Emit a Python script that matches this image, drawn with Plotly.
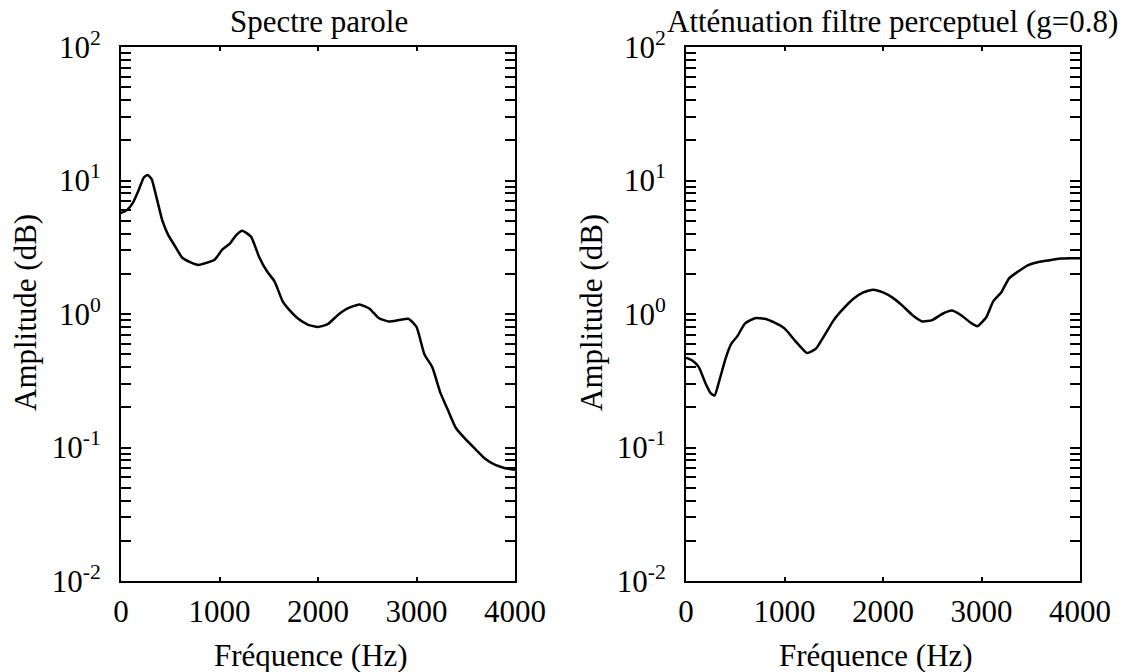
import plotly.graph_objects as go

# ---- data ----
freq_speech = [0, 60, 120, 180, 230, 270, 310, 360, 420, 480, 540, 620, 700, 790, 870, 950,
               1030, 1110, 1170, 1230, 1320, 1400, 1480, 1560, 1640, 1720, 1800, 1900, 2000,
               2100, 2200, 2300, 2420, 2520, 2620, 2720, 2820, 2920, 3000, 3080, 3160, 3240,
               3320, 3400, 3500, 3600, 3700, 3800, 3900, 4000]
amp_speech = [5.7, 6.0, 6.8, 8.5, 10.5, 11.0, 10.3, 7.5, 5.0, 3.9, 3.3, 2.65, 2.45, 2.33, 2.42,
              2.55, 3.05, 3.4, 3.9, 4.2, 3.8, 2.7, 2.1, 1.75, 1.25, 1.05, 0.92, 0.83, 0.80,
              0.84, 0.98, 1.1, 1.18, 1.1, 0.93, 0.88, 0.9, 0.92, 0.8, 0.5, 0.4, 0.26, 0.19,
              0.14, 0.115, 0.097, 0.082, 0.074, 0.07, 0.068]

freq_filter = [0, 60, 130, 200, 250, 290, 340, 400, 460, 520, 600, 700, 800, 900, 1000, 1100,
               1180, 1230, 1320, 1400, 1500, 1600, 1700, 1800, 1900, 2000, 2100, 2200, 2300,
               2400, 2500, 2600, 2700, 2800, 2900, 2960, 3050, 3120, 3200, 3280, 3380, 3480,
               3580, 3680, 3800, 3900, 4000]
amp_filter = [0.47, 0.45, 0.40, 0.30, 0.255, 0.245, 0.32, 0.46, 0.60, 0.68, 0.85, 0.93, 0.92,
              0.86, 0.78, 0.64, 0.55, 0.51, 0.55, 0.68, 0.9, 1.1, 1.3, 1.45, 1.52, 1.45, 1.32,
              1.15, 0.98, 0.88, 0.90, 1.0, 1.06, 0.97, 0.85, 0.81, 0.95, 1.25, 1.45, 1.85, 2.1,
              2.33, 2.45, 2.52, 2.6, 2.62, 2.62]

x_ticks = [0, 1000, 2000, 3000, 4000]
y_ticks = [0.01, 0.1, 1, 10, 100]
y_ticktext = ["10<sup>-2</sup>", "10<sup>-1</sup>", "10<sup>0</sup>", "10<sup>1</sup>", "10<sup>2</sup>"]

titles = ["Spectre parole", "Atténuation filtre perceptuel (g=0.8)"]
x_title = "Fréquence (Hz)"
y_title = "Amplitude (dB)"

FONT = "Liberation Serif, Times New Roman, serif"
FS = 31
W, H = 1131, 672

minor_vals = [m * 10 ** e for e in range(-2, 2) for m in range(2, 10)]

fig = go.Figure()
fig.add_trace(go.Scatter(x=freq_speech, y=amp_speech, mode="lines",
                         line=dict(color="black", width=2.5, shape="spline", smoothing=0.5),
                         xaxis="x", yaxis="y", showlegend=False))
fig.add_trace(go.Scatter(x=freq_filter, y=amp_filter, mode="lines",
                         line=dict(color="black", width=2.5, shape="spline", smoothing=0.5),
                         xaxis="x2", yaxis="y2", showlegend=False))

def xax(domain, anchor):
    return dict(domain=domain, anchor=anchor, range=[0, 4000], tickmode="array", tickvals=x_ticks,
                ticks="inside", ticklen=4, tickwidth=2, tickcolor="black", showline=True, linewidth=2,
                linecolor="black", mirror="ticks", showgrid=False, zeroline=False, automargin=False,
                tickfont=dict(family=FONT, size=FS, color="black"), ticklabelstandoff=2)

def yax(anchor):
    return dict(domain=[1 - 581 / H, 1 - 47 / H], anchor=anchor, type="log", range=[-2, 2],
                tickmode="array", tickvals=y_ticks, ticktext=y_ticktext,
                ticks="inside", ticklen=10, tickwidth=2, tickcolor="black", showline=True, linewidth=2,
                linecolor="black", mirror="ticks", showgrid=False, zeroline=False, automargin=False,
                minor=dict(tickmode="array", tickvals=minor_vals, ticks="inside", ticklen=10, tickwidth=2,
                           tickcolor="black", showgrid=False),
                tickfont=dict(family=FONT, size=FS, color="black"), ticklabelstandoff=12)

fig.update_layout(
    width=W, height=H, margin=dict(l=0, r=0, t=0, b=0, autoexpand=False),
    paper_bgcolor="white", plot_bgcolor="white",
    xaxis=xax([121 / W, 515 / W], "y"),
    yaxis=yax("x"),
    xaxis2=xax([686 / W, 1080 / W], "y2"),
    yaxis2=yax("x2"),
    font=dict(family=FONT, size=FS, color="black"),
)

ann = [
    dict(text=titles[0], x=319 / W, y=1 - 22 / H),
    dict(text=titles[1], x=892 / W, y=1 - 22 / H),
    dict(text=x_title, x=311 / W, y=1 - 655 / H),
    dict(text=x_title, x=876 / W, y=1 - 655 / H),
    dict(text=y_title, x=25 / W, y=1 - 313 / H, textangle=-90),
    dict(text=y_title, x=591 / W, y=1 - 313 / H, textangle=-90),
]
for a in ann:
    fig.add_annotation(xref="paper", yref="paper", showarrow=False, xanchor="center", yanchor="middle",
                       font=dict(family=FONT, size=FS, color="black"), **a)

fig.write_html("out.html")
